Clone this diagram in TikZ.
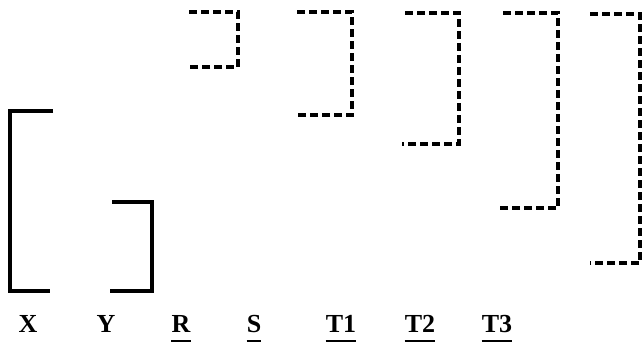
\documentclass[tikz,border=0pt]{standalone}
\usepackage{fontspec}
\setmainfont{Liberation Serif}
\begin{document}
\begin{tikzpicture}[x=1pt,y=-1pt,
  br/.style={line width=3.2pt},
  dbr/.style={line width=3.2pt, dash pattern=on 8pt off 4pt},
  lab/.style={inner sep=0pt, anchor=base, font=\fontsize{26}{30}\selectfont\bfseries},
  ul/.style={line width=2pt}]
\useasboundingbox (0,0) rectangle (643,349);
% solid brackets
\draw[br] (53,111) -- (10,111) -- (10,291) -- (50,291);
\draw[br] (112,202) -- (152,202) -- (152,291) -- (110,291);
% dashed brackets
\draw[dbr] (189,12) -- (238,12) -- (238,67) -- (189,67);
\draw[dbr] (297,12) -- (352,12) -- (352,115) -- (296,115);
\draw[dbr] (405,13) -- (459,13) -- (459,144) -- (402,144);
\draw[dbr] (503,13) -- (558,13) -- (558,208) -- (500,208);
\draw[dbr] (590,14) -- (640,14) -- (640,263) -- (590,263);
% labels
\node[lab] (x) at (28,332) {X};
\node[lab] (y) at (106,332) {Y};
\node[lab] (r) at (181,332) {R};
\node[lab] (s) at (254,332) {S};
\node[lab] (t1) at (341,332) {T1};
\node[lab] (t2) at (420,332) {T2};
\node[lab] (t3) at (497,332) {T3};
\foreach \n in {r,s,t1,t2,t3}
  \draw[ul] ([yshift=-9pt]\n.base west) -- ([yshift=-9pt]\n.base east);
\end{tikzpicture}
\end{document}
